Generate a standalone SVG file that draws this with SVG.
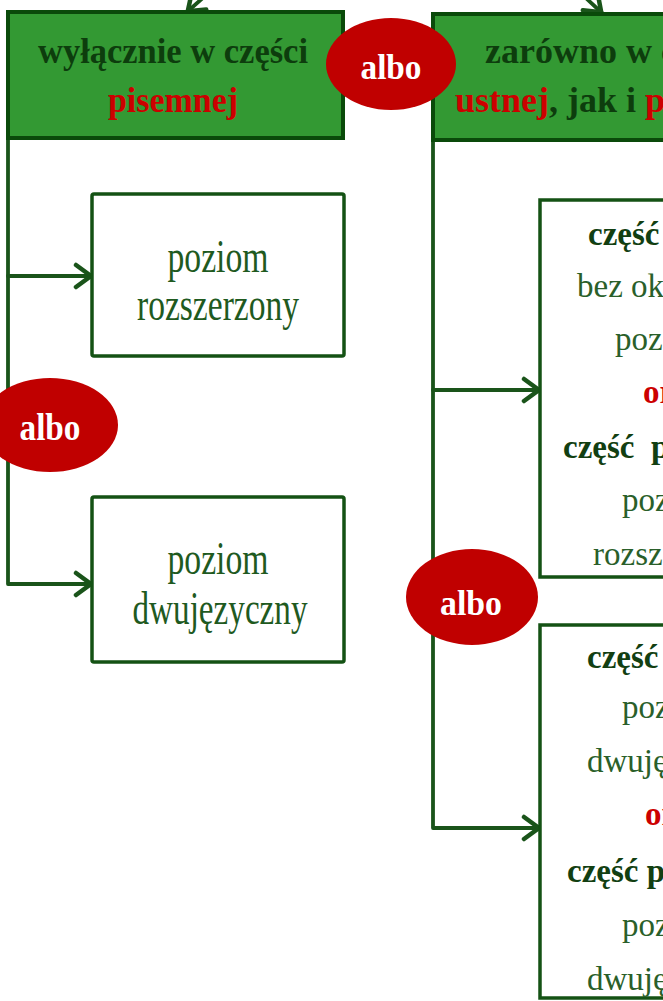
<svg xmlns="http://www.w3.org/2000/svg" width="663" height="1001" viewBox="0 0 663 1001">
<style>
.conn{fill:none;stroke:#1a541a;stroke-width:3.8;stroke-linecap:round;stroke-linejoin:round}
.gbox{fill:#339933;stroke:#0a4a0a;stroke-width:4}
.wbox{fill:#ffffff;stroke:#145214;stroke-width:3.5}
.albo{fill:#c00000}
.t{font-family:"Liberation Serif","Times New Roman",serif}
.tt{font-weight:bold;font-size:36px;fill:#0d3d0d}
.bx{font-size:46px;fill:#1f5a1f}
.sm{font-size:33px;fill:#2a5f2a}
.b{font-weight:bold;fill:#123f12}
.red{fill:#cc0000}
.at{font-weight:bold;fill:#ffffff;text-anchor:middle}
</style>
<defs>
<marker id="ah" markerUnits="userSpaceOnUse" viewBox="-20 -14 24 28" markerWidth="24" markerHeight="28" refX="1" refY="0" orient="auto">
<path d="M-15,-11 L0,0 L-15,11" fill="none" stroke="#1a541a" stroke-width="4.5" stroke-linejoin="miter" stroke-linecap="round"/>
</marker>
</defs>
<g id="connectors">
<path class="conn" d="M232,-28 L187,12" marker-end="url(#ah)"/>
<path class="conn" d="M558,-28 L602,13" marker-end="url(#ah)"/>
<path class="conn" d="M8,138 L8,584 L92,584" marker-end="url(#ah)"/>
<path class="conn" d="M8,276 L92,276" marker-end="url(#ah)"/>
<path class="conn" d="M433,140 L433,828 L540,828" marker-end="url(#ah)"/>
<path class="conn" d="M433,390 L540,390" marker-end="url(#ah)"/>
</g>
<g id="node-pisemnej">
<rect class="gbox" x="8" y="12" width="335" height="126"/>
<text class="t tt" x="173" y="63" text-anchor="middle" textLength="270" lengthAdjust="spacingAndGlyphs">wyłącznie w części</text>
<text class="t tt red" x="173" y="112" text-anchor="middle" textLength="130" lengthAdjust="spacingAndGlyphs">pisemnej</text>
</g>
<g id="node-ustnej-pisemnej">
<rect class="gbox" x="433" y="14" width="300" height="126"/>
<text class="t tt" x="485" y="63" font-size="35">zarówno w c</text>
<text class="t tt" x="455" y="112" font-size="35"><tspan class="red">ustnej</tspan>, jak i <tspan class="red">pi</tspan></text>
</g>
<g id="node-albo-top">
<ellipse class="albo" cx="391" cy="64" rx="65" ry="46"/>
<text class="t at" x="391" y="79" font-size="36" textLength="61" lengthAdjust="spacingAndGlyphs">albo</text>
</g>
<g id="node-rozszerzony">
<rect class="wbox" x="92" y="194" width="252" height="162" rx="2"/>
<text class="t bx" x="218" y="272" text-anchor="middle" textLength="101" lengthAdjust="spacingAndGlyphs">poziom</text>
<text class="t bx" x="218" y="320" text-anchor="middle" textLength="162" lengthAdjust="spacingAndGlyphs">rozszerzony</text>
</g>
<g id="node-albo-left">
<ellipse class="albo" cx="50" cy="425" rx="68" ry="47"/>
<text class="t at" x="50" y="440" font-size="38" textLength="61" lengthAdjust="spacingAndGlyphs">albo</text>
</g>
<g id="node-dwujezyczny">
<rect class="wbox" x="92" y="497" width="252" height="165" rx="2"/>
<text class="t bx" x="218" y="574" text-anchor="middle" textLength="101" lengthAdjust="spacingAndGlyphs">poziom</text>
<text class="t bx" x="220" y="624" text-anchor="middle" textLength="175" lengthAdjust="spacingAndGlyphs">dwujęzyczny</text>
</g>
<g id="node-ustna-rozszerzony">
<rect class="wbox" x="540" y="200" width="300" height="377"/>
<text class="t sm b" x="588" y="245">część</text>
<text class="t sm" x="577" y="297">bez ok</text>
<text class="t sm" x="615" y="350">poz</text>
<text class="t sm b red" x="643" y="403">or</text>
<text class="t sm b" x="563" y="458" xml:space="preserve">część  p</text>
<text class="t sm" x="622" y="511">poz</text>
<text class="t sm" x="593" y="565">rozsz</text>
</g>
<g id="node-albo-right">
<ellipse class="albo" cx="472" cy="597" rx="66" ry="48"/>
<text class="t at" x="471" y="615" font-size="36" textLength="62" lengthAdjust="spacingAndGlyphs">albo</text>
</g>
<g id="node-ustna-dwujezyczny">
<rect class="wbox" x="540" y="625" width="300" height="373"/>
<text class="t sm b" x="587" y="668">część</text>
<text class="t sm" x="622" y="718">poz</text>
<text class="t sm" x="587" y="772">dwuję</text>
<text class="t sm b red" x="645" y="825">or</text>
<text class="t sm b" x="567" y="882">część p</text>
<text class="t sm" x="622" y="936">poz</text>
<text class="t sm" x="587" y="990">dwuję</text>
</g>
</svg>
